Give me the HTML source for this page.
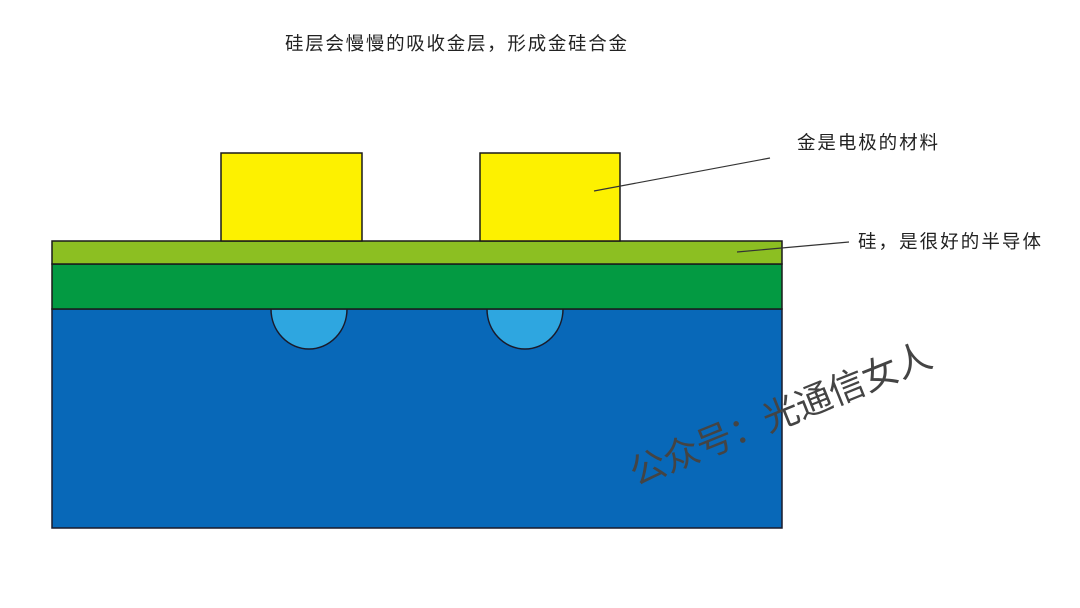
<!DOCTYPE html>
<html><head><meta charset="utf-8"><style>
html,body{margin:0;padding:0;background:#fff;width:1080px;height:608px;overflow:hidden}
svg text{font-family:"Liberation Sans","Noto Sans CJK SC",sans-serif;fill:#222}
</style></head><body>
<svg width="1080" height="608" viewBox="0 0 1080 608" xmlns="http://www.w3.org/2000/svg">
<rect x="52" y="309" width="730" height="219" fill="#0868b8" stroke="#1a1a2a" stroke-width="1.5"/>
<path d="M271 309 A38 40 0 0 0 347 309 Z" fill="#2ea6e0" stroke="#1a1a2a" stroke-width="1.5"/>
<path d="M487 309 A38 40 0 0 0 563 309 Z" fill="#2ea6e0" stroke="#1a1a2a" stroke-width="1.5"/>
<rect x="52" y="264" width="730" height="45" fill="#039a42" stroke="#1a1a1a" stroke-width="1.5"/>
<rect x="52" y="241" width="730" height="23" fill="#8cbf22" stroke="#1a1a1a" stroke-width="1.5"/>
<rect x="221" y="153" width="141" height="88" fill="#fdf100" stroke="#1a1a1a" stroke-width="1.5"/>
<rect x="480" y="153" width="140" height="88" fill="#fdf100" stroke="#1a1a1a" stroke-width="1.5"/>
<line x1="594" y1="191" x2="770" y2="158" stroke="#333" stroke-width="1.2"/>
<line x1="737" y1="252" x2="849" y2="242" stroke="#333" stroke-width="1.2"/>
<text x="285" y="50" font-size="18.5" textLength="342" lengthAdjust="spacing">硅层会慢慢的吸收金层，形成金硅合金</text>
<text x="797" y="149" font-size="18.5" textLength="141" lengthAdjust="spacing">金是电极的材料</text>
<text x="858" y="248" font-size="18.5" textLength="183" lengthAdjust="spacing">硅，是很好的半导体</text>
<text x="0" y="0" font-size="36" textLength="322" lengthAdjust="spacing" transform="translate(636,486) rotate(-22)" style="fill:#444">公众号：光通信女人</text>
</svg>
</body></html>
